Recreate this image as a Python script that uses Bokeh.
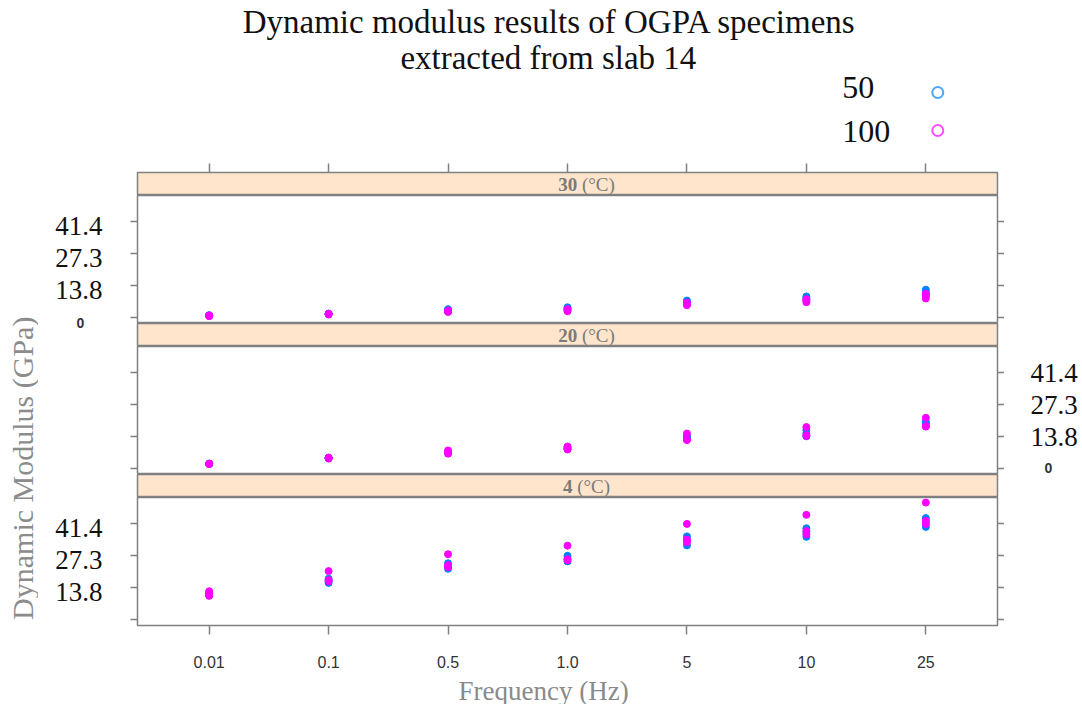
import math
from bokeh.plotting import figure
from bokeh.models import Range1d, LinearAxis, FixedTicker
from bokeh.layouts import column, row
from bokeh.embed import file_html
from bokeh.resources import INLINE
from bokeh.core.properties import value

# ---------------- data ----------------
title_lines = ["Dynamic modulus results of OGPA specimens", "extracted from slab 14"]
x_title = "Frequency (Hz)"
y_title = "Dynamic Modulus  (GPa)"
freq_labels = ["0.01", "0.1", "0.5", "1.0", "5", "10", "25"]
temperatures = ["30", "20", "4"]
temp_unit = "(°C)"
series_names = ["50", "100"]
series_colors = ["#0080ff", "#ff00ff"]
ytick_values = [0, 13.8, 27.6, 41.4]
ytick_labels = ["0", "13.8", "27.3", "41.4"]

# dynamic modulus (GPa), three specimens per series, one value per frequency
t30_s50 = [[1.0, 1.7, 3.6, 4.4, 7.3, 9.1, 12.0],
           [0.8, 1.5, 3.2, 4.0, 6.6, 8.3, 11.0],
           [0.7, 1.4, 2.9, 3.5, 6.0, 7.6, 10.0]]
t30_s100 = [[0.9, 1.6, 3.0, 3.6, 6.4, 7.9, 10.3],
            [0.7, 1.5, 2.7, 3.1, 5.8, 7.2, 9.3],
            [0.6, 1.3, 2.4, 2.7, 5.3, 6.6, 8.2]]
t20_s50 = [[2.1, 4.6, 7.4, 9.2, 14.2, 16.6, 20.2],
           [2.0, 4.5, 7.0, 8.8, 13.6, 15.2, 19.4],
           [1.9, 4.4, 6.6, 8.4, 13.0, 13.9, 18.7]]
t20_s100 = [[2.1, 4.7, 7.8, 9.5, 15.1, 17.9, 21.9],
            [2.0, 4.5, 6.8, 8.6, 12.4, 14.4, 18.3],
            [1.9, 4.3, 6.4, 8.2, 12.3, 14.0, 18.1]]
t4_s50 = [[11.8, 17.6, 24.3, 27.5, 35.9, 39.4, 43.8],
          [11.0, 16.7, 23.1, 26.3, 34.0, 37.6, 42.0],
          [10.4, 15.8, 21.9, 25.1, 32.0, 35.7, 40.0]]
t4_s100 = [[12.2, 20.9, 28.2, 31.9, 41.3, 45.2, 50.5],
           [11.2, 17.0, 23.5, 26.0, 34.6, 38.2, 42.6],
           [10.2, 16.4, 22.6, 25.6, 33.4, 36.8, 41.2]]
panel_data = {"30": [t30_s50, t30_s100],
              "20": [t20_s50, t20_s100],
              "4": [t4_s50, t4_s100]}

# ---------------- style ----------------
SERIF = "Liberation Serif"
SANS = "Liberation Sans"
EDGE = "#808080"
STRIP_BG = "#ffe5cc"
W_LAB = 38           # y-title column
W = 1042             # width right of the y-title column
W_LC, W_RC = 92, 76  # tick-label cells left / right of each panel
W_P = W - W_LC - W_RC
ML, MR = W_LC + 7, W_RC + 7
TOTAL_H = 704
PANEL_H = 128
STRIP_H = 23
BOTTOM_AX = 47

x_pos = list(range(1, len(freq_labels) + 1))
x_range = Range1d(0.4, len(freq_labels) + 0.6)
y_range = Range1d(-2.6, 52.7)
x_mid = (x_range.start + x_range.end) / 2


def make_fig(h, top=0, bottom=0, yr=None, left=ML, right=MR, width=W, xr=None):
    p = figure(width=width, height=h, x_range=xr if xr is not None else x_range,
               y_range=yr if yr is not None else Range1d(0, 1),
               x_axis_location=None, y_axis_location=None,
               toolbar_location=None, output_backend="svg",
               min_border=0, min_border_left=left, min_border_right=right,
               min_border_top=top, min_border_bottom=bottom)
    p.grid.visible = False
    p.outline_line_color = None
    p.background_fill_color = "white"
    p.border_fill_color = "white"
    return p


def x_axis(labels):
    ax = LinearAxis(ticker=FixedTicker(ticks=x_pos, minor_ticks=[]),
                    axis_line_color=None, major_tick_line_color=EDGE,
                    major_tick_line_width=1.5, major_tick_in=0, major_tick_out=9,
                    minor_tick_line_color=None)
    if labels:
        ax.major_label_overrides = {x: lab for x, lab in zip(x_pos, freq_labels)}
        ax.major_label_text_font = SANS
        ax.major_label_text_font_size = "16px"
        ax.major_label_text_color = "#333333"
        ax.major_label_standoff = 21
    else:
        ax.major_label_overrides = {x: "" for x in x_pos}
        ax.major_label_text_font_size = "0px"
        ax.major_label_standoff = 0
    return ax


def y_tick_axis():
    ax = LinearAxis(ticker=FixedTicker(ticks=ytick_values, minor_ticks=[]),
                    axis_line_color=None, major_tick_line_color=EDGE,
                    major_tick_line_width=1.5, major_tick_in=0, major_tick_out=7,
                    minor_tick_line_color=None, major_label_text_font_size="0px",
                    major_label_standoff=0)
    ax.major_label_overrides = {v: "" for v in ytick_values}
    return ax


def label_cell(width, extra, bottom, side, show_big, show_zero, big_dy=0, zero_dy=0):
    """Tick-label column beside a panel; same y scale as the panel, extended
    downwards by `extra` pixels so that labels near 0 are not clipped."""
    per_px = (y_range.end - y_range.start) / PANEL_H
    yr = Range1d(y_range.start - extra * per_px, y_range.end)
    c = make_fig(PANEL_H + extra + bottom, bottom=bottom, yr=yr, left=0, right=0,
                 width=width, xr=Range1d(0, width))
    if show_big:
        vals = [v for v in ytick_values if v != 0]
        labs = [l for v, l in zip(ytick_values, ytick_labels) if v != 0]
        if side == "left":
            c.text(x=[width - 28] * len(vals), y=vals, text=labs, y_offset=big_dy,
                   text_font=value(SERIF), text_font_size="27px", text_color="#111111",
                   text_align="right", text_baseline="middle")
        else:
            c.text(x=[26] * len(vals), y=vals, text=labs, y_offset=big_dy,
                   text_font=value(SERIF), text_font_size="27px", text_color="#111111",
                   text_align="left", text_baseline="middle")
    if show_zero:
        zx = width - 50 if side == "left" else 44
        c.text(x=[zx], y=[ytick_values[0]], text=[ytick_labels[0]], y_offset=zero_dy,
               text_font=value(SANS), text_font_size="14px", text_font_style="bold",
               text_color="#333333", text_align="center", text_baseline="middle")
    return c


def strip_fig(temp, top=0, left=ML, right=MR, width=W):
    p = make_fig(STRIP_H + top, top=top, left=left, right=right, width=width)
    p.background_fill_color = STRIP_BG
    p.outline_line_color = EDGE
    p.outline_line_width = 1.5
    n = len(temp)
    total = n * 9.5 + 4.75 + 33
    num_right = 19 - total / 2 + n * 9.5
    p.text(x=[x_mid], y=[0.5], text=[temp], x_offset=num_right,
           text_font=value(SERIF), text_font_size="19px", text_font_style="bold",
           text_color="#7a7a7a", text_align="right", text_baseline="middle")
    p.text(x=[x_mid], y=[0.5], text=[temp_unit], x_offset=num_right + 4.75,
           text_font=value(SERIF), text_font_size="19px",
           text_color="#7a7a7a", text_align="left", text_baseline="middle")
    if top:
        p.add_layout(x_axis(False), "above")
    return p


def panel_fig(temp, bottom=0):
    p = make_fig(PANEL_H + bottom, bottom=bottom, yr=y_range, left=7, right=7, width=W_P)
    p.outline_line_color = EDGE
    p.outline_line_width = 1.5
    p.add_layout(y_tick_axis(), "left")
    p.add_layout(y_tick_axis(), "right")
    for series, color in zip(panel_data[temp], series_colors):
        xs, ys = [], []
        for specimen in series:
            for x, v in zip(x_pos, specimen):
                xs.append(x)
                ys.append(v)
        p.scatter(xs, ys, marker="circle", size=7, fill_color=color, line_color=color)
    if bottom:
        p.add_layout(x_axis(True), "below")
    return p


# ---------------- header (title + key) ----------------
header = make_fig(163, yr=Range1d(163, 0))
header.text(x=[3.85, 3.84], y=[21, 57], text=title_lines,
            text_font=value(SERIF), text_font_size="33px", text_color="#111111",
            text_align="center", text_baseline="middle")
header.text(x=[6.30, 6.30], y=[87, 131], text=series_names,
            text_font=value(SERIF), text_font_size="32px", text_color="#111111",
            text_align="left", text_baseline="middle")
header.scatter(x=[7.10, 7.10], y=[92, 130], marker="circle", size=11,
               fill_color=None, line_color=series_colors, line_width=2, line_alpha=0.7)

# ---------------- panels ----------------
s30 = strip_fig(temperatures[0], top=9)
p30 = panel_fig(temperatures[0])
s20 = strip_fig(temperatures[1], left=7, right=7, width=W_P)
p20 = panel_fig(temperatures[1])
s4 = strip_fig(temperatures[2], left=7, right=7, width=W_P)
p4 = panel_fig(temperatures[2], bottom=BOTTOM_AX)

r30 = row(label_cell(W_LC, STRIP_H, 0, "left", True, True, big_dy=4, zero_dy=6),
          column(p30, s20),
          label_cell(W_RC, STRIP_H, 0, "right", False, False))
r20 = row(label_cell(W_LC, STRIP_H, 0, "left", False, False),
          column(p20, s4),
          label_cell(W_RC, STRIP_H, 0, "right", True, True))
r4 = row(label_cell(W_LC, 0, BOTTOM_AX, "left", True, False, big_dy=4),
         p4,
         label_cell(W_RC, 0, BOTTOM_AX, "right", False, False))

# ---------------- x title ----------------
footer = make_fig(32, yr=Range1d(32, 0))
footer.text(x=[3.80], y=[18], text=[x_title], text_font=value(SERIF),
            text_font_size="27px", text_color="#8a8a8a",
            text_align="center", text_baseline="middle")

# ---------------- y title ----------------
ylab = make_fig(TOTAL_H, yr=Range1d(TOTAL_H, 0), left=0, right=0, width=W_LAB,
                xr=Range1d(0, 1))
ylab.text(x=[0.58], y=[464], text=[y_title], angle=math.pi / 2,
          text_font=value(SERIF), text_font_size="30px", text_color="#8c8c8c",
          text_align="center", text_baseline="middle")

layout = row(ylab, column(header, s30, r30, r20, r4, footer))

with open("out.html", "w") as f:
    f.write(file_html(layout, INLINE))
